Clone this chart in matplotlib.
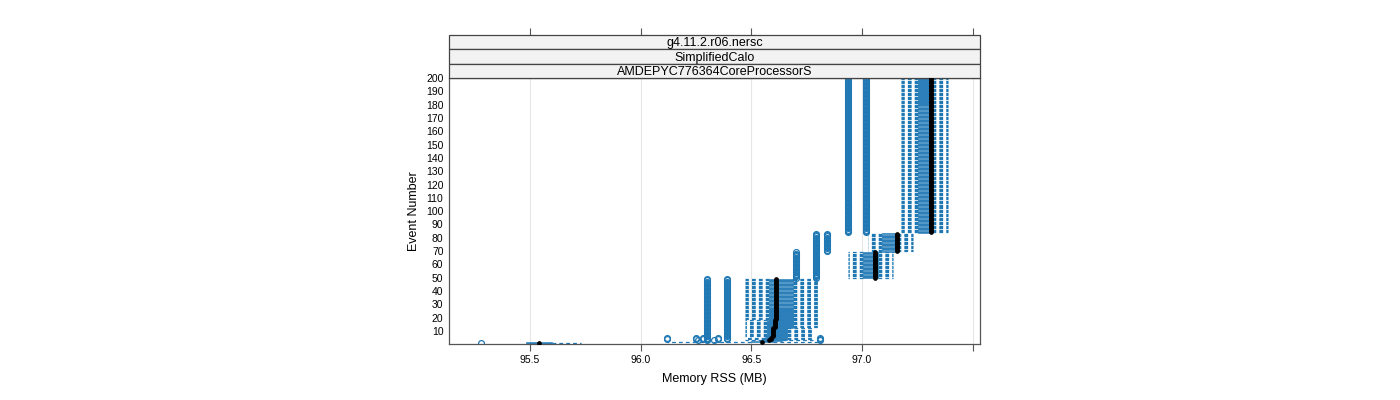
import matplotlib

matplotlib.use("Agg")
import matplotlib.pyplot as plt
import numpy as np
from matplotlib.patches import Rectangle

plt.rcParams["font.family"] = ["Liberation Sans", "DejaVu Sans"]

# per-event boxplot summaries, grouped in runs of events with the same stats
seg_first = [1, 2, 3, 4, 6, 13, 19, 50, 70, 84]
seg_last = [1, 2, 3, 5, 12, 18, 49, 69, 83, 200]
seg_whislo = [95.48, 96.12, 96.47, 96.47, 96.47, 96.47, 96.47, 96.937, 97.027, 97.176]
seg_q1 = [95.48, 96.50, 96.55, 96.56, 96.57, 96.57, 96.58, 97.005, 97.09, 97.253]
seg_med = [95.54, 96.55, 96.58, 96.59, 96.598, 96.606, 96.613, 97.059, 97.157, 97.31]
seg_q3 = [95.60, 96.60, 96.64, 96.66, 96.66, 96.69, 96.69, 97.073, 97.16, 97.315]
seg_whishi = [95.73, 96.80, 96.78, 96.78, 96.78, 96.81, 96.81, 97.14, 97.23, 97.39]
seg_fliers = [
    [95.28],
    [],
    [96.26, 96.30, 96.33, 96.81],
    [96.12, 96.25, 96.28, 96.30, 96.35, 96.39, 96.81],
    [96.30, 96.39],
    [96.30, 96.39],
    [96.30, 96.39],
    [96.70, 96.79],
    [96.79, 96.84],
    [96.935, 97.02],
]

strip_labels = ["g4.11.2.r06.nersc", "SimplifiedCalo", "AMDEPYC776364CoreProcessorS"]
x_ticks = [95.5, 96.0, 96.5, 97.0, 97.5]
x_ticklabels = ["95.5", "96.0", "96.5", "97.0", ""]
y_ticks = list(range(10, 201, 10))

BLUE = "#1f78b4"

events = []
stats = []
for i in range(len(seg_first)):
    for e in range(seg_first[i], seg_last[i] + 1):
        events.append(e)
        stats.append(
            dict(
                whislo=seg_whislo[i],
                q1=seg_q1[i],
                med=seg_med[i],
                q3=seg_q3[i],
                whishi=seg_whishi[i],
                fliers=seg_fliers[i],
            )
        )

fig = plt.figure(figsize=(14, 4), dpi=100)
ax = fig.add_axes([449 / 1400, 56 / 400, 531 / 1400, 266 / 400])

ax.bxp(
    stats,
    positions=events,
    widths=0.8,
    orientation="horizontal",
    patch_artist=True,
    manage_ticks=False,
    showcaps=False,
    boxprops=dict(facecolor="#2a7fba", edgecolor=BLUE, linewidth=0.4),
    whiskerprops=dict(color=BLUE, linewidth=0.9, linestyle=(0, (3, 2.5))),
    medianprops=dict(linewidth=0),
    flierprops=dict(marker="o", markerfacecolor="none", markeredgecolor=BLUE,
                    markersize=4.2, markeredgewidth=0.9),
)
ax.plot([s["med"] for s in stats], events, "o", color="black", ms=3.4, mew=0,
        linestyle="none", zorder=5)

ax.set_xlim(95.134, 97.533)
ax.set_ylim(0.24, 200)
ax.set_xticks(x_ticks)
ax.set_xticklabels(x_ticklabels)
ax.set_yticks(y_ticks)
ax.set_yticklabels([str(v) for v in y_ticks])
ax.tick_params(axis="x", direction="out", length=5, width=0.8, color="#555555",
               labelsize=7.5, pad=3)
ax.tick_params(axis="y", length=0, labelsize=7.5, pad=4)
ax.grid(axis="x", color="#e6e6e6", linewidth=0.8)
ax.set_axisbelow(True)
for sp in ax.spines.values():
    sp.set_color("#555555")
    sp.set_linewidth(0.9)

ax.set_xlabel("Memory RSS (MB)", fontsize=9, labelpad=6)
ax.set_ylabel("Event Number", fontsize=9, labelpad=4)

# lattice-style strips above the panel
strip_h = 14.33 / 266
for i, lab in enumerate(strip_labels):
    y0 = 1 + (len(strip_labels) - 1 - i) * strip_h
    ax.add_patch(Rectangle((0, y0), 1, strip_h, transform=ax.transAxes,
                           facecolor="#f2f2f2", edgecolor="#444444",
                           linewidth=0.9, clip_on=False, zorder=3))
    ax.text(0.5, y0 + strip_h / 2 - 0.004, lab, transform=ax.transAxes,
            ha="center", va="center", fontsize=9, zorder=4)

top = ax.secondary_xaxis(1 + len(strip_labels) * strip_h)
top.set_xticks(x_ticks)
top.tick_params(direction="out", length=5, width=0.8, color="#555555",
                labeltop=False)
top.spines["top"].set_visible(False)

fig.savefig("out.png", dpi=100)
plt.close(fig)
